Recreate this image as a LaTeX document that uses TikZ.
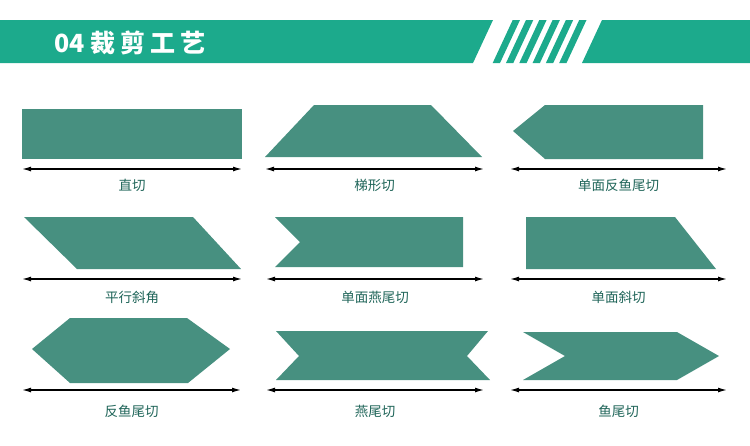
\documentclass[tikz,border=0pt]{standalone}
\usepackage{fontspec}
\newfontfamily\cjk{Noto Sans CJK SC}
\newfontfamily\cjktitle{Noto Sans CJK SC}[LetterSpace=20]
\usetikzlibrary{arrows.meta}
\definecolor{bandgreen}{RGB}{28,170,140}
\definecolor{cutfill}{RGB}{71,144,128}
\definecolor{captext}{RGB}{30,100,88}
\tikzset{
	cut/.style={fill=cutfill},
	dim/.style={{Latex[length=9pt,width=5pt]}-{Latex[length=9pt,width=5pt]}, line width=1.3pt},
	caption/.style={text=captext, font=\cjk\fontsize{13.5}{13.5}\selectfont, inner sep=0pt}
}
\begin{document}
\begin{tikzpicture}[x=1pt,y=-1pt]
	\useasboundingbox (0,0) rectangle (750,445);
	% header band with stripes
	\fill[bandgreen] (0,20) -- (493,20) -- (473,63) -- (0,63) -- cycle;
	\fill[bandgreen] (602,20) -- (750,20) -- (750,63) -- (582,63) -- cycle;
	\foreach \s in {0,...,5}
		\fill[bandgreen] ({512.7+13.3*\s},20) -- ++(7.3,0) -- ++(-20,43) -- ++(-7.3,0) -- cycle;
	\node[anchor=west, text=white, font=\cjk\bfseries\fontsize{25}{25}\selectfont, inner sep=0pt] (title) at (54,43) {04 {\cjktitle\bfseries 裁剪工艺}};
	% row 1
	\fill[cut] (22,109) rectangle (242,159);
	\fill[cut] (314,105) -- (431,105) -- (482,157) -- (265,157) -- cycle;
	\fill[cut] (513,131) -- (545,105) -- (703,105) -- (703,159) -- (545,159) -- cycle;
	% row 2
	\fill[cut] (24,217) -- (193,217) -- (241,269) -- (77,269) -- cycle;
	\fill[cut] (275,217) -- (463,217) -- (463,267) -- (275,267) -- (300,242) -- cycle;
	\fill[cut] (526,217) -- (675,217) -- (716,269) -- (526,269) -- cycle;
	% row 3
	\fill[cut] (32,349) -- (70,318) -- (187,318) -- (230,349) -- (188,383) -- (70,383) -- cycle;
	\fill[cut] (276,331) -- (488,331) -- (467,356) -- (490,380) -- (276,380) -- (299,356) -- cycle;
	\fill[cut] (523,332) -- (677,332) -- (719,356) -- (677,380) -- (523,380) -- (565,356) -- cycle;
	% length arrows and names
	\foreach \xa/\xb/\ya/\yb/\name [count=\i] in {22/242/169/185/直切, 265/484/169/185/梯形切, 510/727/169/185/单面反鱼尾切, 22/242/279/297/平行斜角, 266/484/279/297/单面燕尾切, 510/727/279/297/单面斜切, 22/241/390/411/反鱼尾切, 266/484/390/411/燕尾切, 510/727/390/411/鱼尾切} {
		\coordinate (a\i) at (\xa,\ya);
		\coordinate (b\i) at (\xb,\ya);
		\draw[dim] (a\i) -- (b\i);
		\node[caption] (cap\i) at ({(\xa+\xb)/2},\yb) {\name};
	}
\end{tikzpicture}
\end{document}
